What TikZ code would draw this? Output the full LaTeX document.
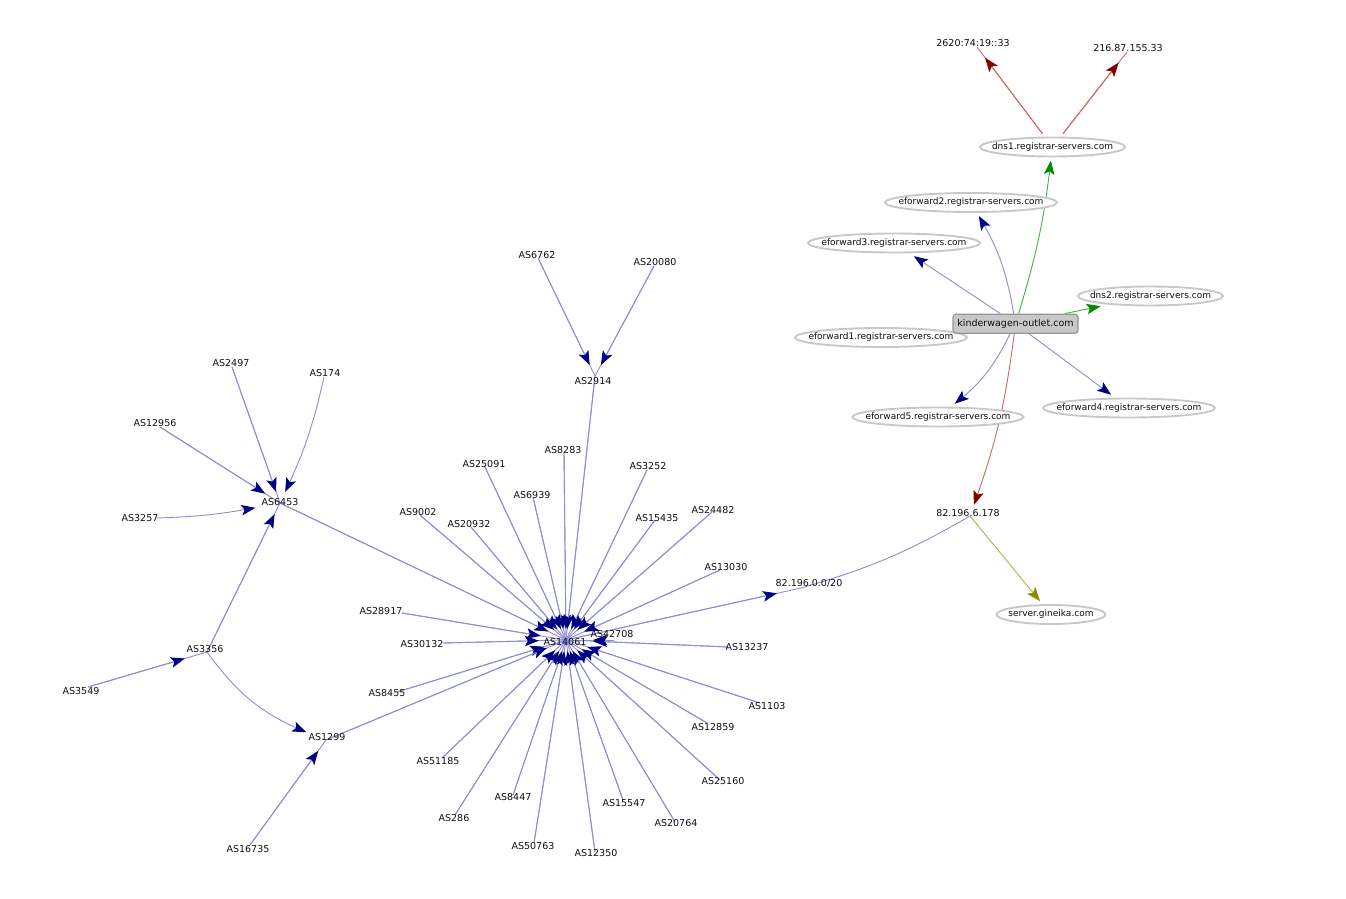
\documentclass[tikz,border=0pt]{standalone}
\usepackage{fontspec}
\setmainfont{DejaVu Sans}
\usetikzlibrary{arrows.meta,shapes.geometric}
\definecolor{eblue}{RGB}{140,140,212}
\definecolor{tblue}{RGB}{0,0,130}
\definecolor{egreen}{RGB}{70,175,70}
\definecolor{tgreen}{RGB}{0,140,0}
\definecolor{ered}{RGB}{195,105,105}
\definecolor{tred}{RGB}{130,0,0}
\definecolor{eolive}{RGB}{175,175,80}
\definecolor{tolive}{RGB}{140,140,0}
\definecolor{ringgray}{RGB}{200,200,200}
\definecolor{boxfill}{RGB}{200,200,200}
\definecolor{boxline}{RGB}{150,150,150}
\definecolor{txt}{RGB}{15,15,15}
\pgfdeclarelayer{edgelayer}
\pgfsetlayers{edgelayer,main}
\newcommand\ASnode[6]{\node[asn,label={[lbl,xshift=#5pt,yshift={-1pt*(#6)}]center:#4}] (#1) at (#2,#3) {};}
\begin{document}
\begin{tikzpicture}[x=1pt,y=-1pt,
  lbl/.style={font=\fontsize{9.5}{11}\selectfont, text=txt, inner sep=0pt},
  asn/.style={ellipse, inner sep=0pt, minimum width=54, minimum height=22},
  ell/.style={ellipse, draw=ringgray, line width=1.9pt, fill=white, outer sep=4pt,
    font=\fontsize{9}{11}\selectfont, text=txt, inner xsep=-40pt, inner ysep=-6pt, minimum height=19},
  kbox/.style={rectangle, rounded corners=3pt, draw=boxline, fill=boxfill, line width=1.2pt,
    minimum width=125, minimum height=19, inner sep=0pt, font=\fontsize{9.5}{11}\selectfont, text=txt},
  navytip/.tip={Stealth[length=14pt,width=10.5pt,inset=3pt,color=tblue]},
  greentip/.tip={Stealth[length=14pt,width=10.5pt,inset=3pt,color=tgreen]},
  redtip/.tip={Stealth[length=14pt,width=10.5pt,inset=3pt,color=tred]},
  olivetip/.tip={Stealth[length=14pt,width=10.5pt,inset=3pt,color=tolive]},
  bline/.style={draw=eblue, line width=0.9pt},
  bedge/.style={bline, -navytip},
  gedge/.style={draw=egreen, line width=0.9pt, -greentip},
  rline/.style={draw=ered, line width=0.9pt},
  redge/.style={rline, -redtip},
  oedge/.style={draw=eolive, line width=0.9pt, -olivetip}
]
\useasboundingbox (0,0) rectangle (1346,899);

% ---------- AS nodes (point, label offset) ----------
\ASnode{h}{566}{640}{AS14061}{-1}{2}
\ASnode{as8283}{564}{453}{AS8283}{-1}{-3}
\ASnode{as25091}{485}{467}{AS25091}{-1}{-3}
\ASnode{as3252}{647}{470}{AS3252}{1}{-4}
\ASnode{as6939}{533}{497}{AS6939}{-1}{-2}
\ASnode{as9002}{420}{515}{AS9002}{-2}{-3}
\ASnode{as20932}{471}{527}{AS20932}{-2}{-3}
\ASnode{as15435}{655}{520}{AS15435}{2}{-2}
\ASnode{as24482}{712}{512}{AS24482}{1}{-2}
\ASnode{as13030}{720}{570}{AS13030}{6}{-3}
\ASnode{as28917}{402}{613}{AS28917}{-21}{-2}
\ASnode{as30132}{443}{643}{AS30132}{-21}{1}
\ASnode{as42708}{614}{640}{AS42708}{-2}{-6}
\ASnode{as13237}{728}{647}{AS13237}{19}{0}
\ASnode{as8455}{397}{692}{AS8455}{-10}{1}
\ASnode{as1103}{760}{703}{AS1103}{7}{3}
\ASnode{as12859}{707}{723}{AS12859}{6}{4}
\ASnode{as51185}{442}{758}{AS51185}{-4}{3}
\ASnode{as25160}{720}{780}{AS25160}{3}{1}
\ASnode{as8447}{513}{795}{AS8447}{0}{2}
\ASnode{as15547}{623}{800}{AS15547}{1}{3}
\ASnode{as286}{455}{815}{AS286}{-1}{3}
\ASnode{as20764}{675}{822}{AS20764}{1}{1}
\ASnode{as50763}{534}{843}{AS50763}{-1}{3}
\ASnode{as12350}{595}{852}{AS12350}{1}{1}
\ASnode{as2914}{595}{376}{AS2914}{-2}{5}
\ASnode{as6762}{538}{258}{AS6762}{-1}{-3}
\ASnode{as20080}{654}{266}{AS20080}{1}{-4}
\ASnode{as6453}{280}{503}{AS6453}{0}{-1}
\ASnode{as2497}{232}{367}{AS2497}{-1}{-4}
\ASnode{as174}{324}{377}{AS174}{1}{-4}
\ASnode{as12956}{160}{427}{AS12956}{-5}{-4}
\ASnode{as3257}{157}{518}{AS3257}{-17}{0}
\ASnode{as3356}{207}{652}{AS3356}{-2}{-3}
\ASnode{as3549}{88}{687}{AS3549}{-7}{4}
\ASnode{as1299}{326}{740}{AS1299}{1}{-3}
\ASnode{as16735}{250}{845}{AS16735}{-2}{4}
\ASnode{p20}{801}{588}{82.196.0.0/20}{8}{-5}
\ASnode{ip178}{970}{516}{82.196.6.178}{-2}{-3}
\ASnode{ip6}{977}{47}{2620:74:19::33}{-4}{-4}
\ASnode{ip4}{1127}{52}{216.87.155.33}{1}{-4}

% ---------- domain nodes ----------
\node[ell, minimum width=145] (d1) at (1052.5,147) {dns1.registrar-servers.com};
\node[ell, minimum width=172] (e2) at (971,202.5) {eforward2.registrar-servers.com};
\node[ell, minimum width=172] (e3) at (894,243) {eforward3.registrar-servers.com};
\node[ell, minimum width=145] (d2) at (1150.5,296) {dns2.registrar-servers.com};
\node[ell, minimum width=172] (e1) at (881,337.5) {eforward1.registrar-servers.com};
\node[ell, minimum width=171] (e5) at (938,417) {eforward5.registrar-servers.com};
\node[ell, minimum width=172] (e4) at (1129,408) {eforward4.registrar-servers.com};
\node[ell, minimum width=109] (srv) at (1051,614.5) {server.gineika.com};
\node[kbox] (k) at (1015.5,323.7) {kinderwagen-outlet.com};

% ---------- edges ----------
\begin{pgfonlayer}{edgelayer}
\foreach \n in {as8283,as25091,as3252,as6939,as9002,as20932,as15435,as24482,as13030,
  as28917,as30132,as42708,as13237,as8455,as1103,as12859,as51185,as25160,as8447,
  as15547,as286,as20764,as50763,as12350,as2914,as6453,as1299}
  {\draw[bline] (\n.center) -- (h.center);}
\foreach \n in {as8283,as25091,as3252,as6939,as9002,as20932,as15435,as24482,as13030,
  as28917,as30132,as42708,as13237,as8455,as1103,as12859,as51185,as25160,as8447,
  as15547,as286,as20764,as50763,as12350,as2914,as6453,as1299}
  {\draw[bedge] (\n.center) -- (h);}
\draw[bline] (h.center) -- (p20.center);
\draw[bedge] (h.center) -- (p20);
\draw[bline] (p20.center) to[bend right=7] (ip178.center);

% left cluster
\foreach \a/\b in {as2497/as6453,as12956/as6453,as3356/as6453,as3549/as3356,
  as16735/as1299,as6762/as2914,as20080/as2914}
  {\draw[bline] (\a.center) -- (\b.center); \draw[bedge] (\a.center) -- (\b);}
\draw[bedge] (as174.center) to[bend left=6] (as6453);
\draw[bedge] (as3257.center) to[bend right=4] (as6453);
\draw[bedge] (as3356.center) to[bend right=15] (as1299);

% domain part
\draw[gedge] (k) to[bend right=5] (d1);
\draw[bedge] (k) to[bend right=10] (e2);
\draw[bedge] (k) -- (e3);
\draw[gedge] (k) -- (d2);
\draw[bedge] (k) to[bend left=12] (e5);
\draw[bedge] (k) -- (e4);
\draw[redge] (k) to[bend left=6] (ip178);
\draw[rline] (d1) -- (ip6.center);
\draw[redge] (d1) -- (ip6);
\draw[rline] (d1) -- (ip4.center);
\draw[redge] (d1) -- (ip4);
\draw[oedge] (ip178.center) -- (srv);
\end{pgfonlayer}
\end{tikzpicture}
\end{document}
